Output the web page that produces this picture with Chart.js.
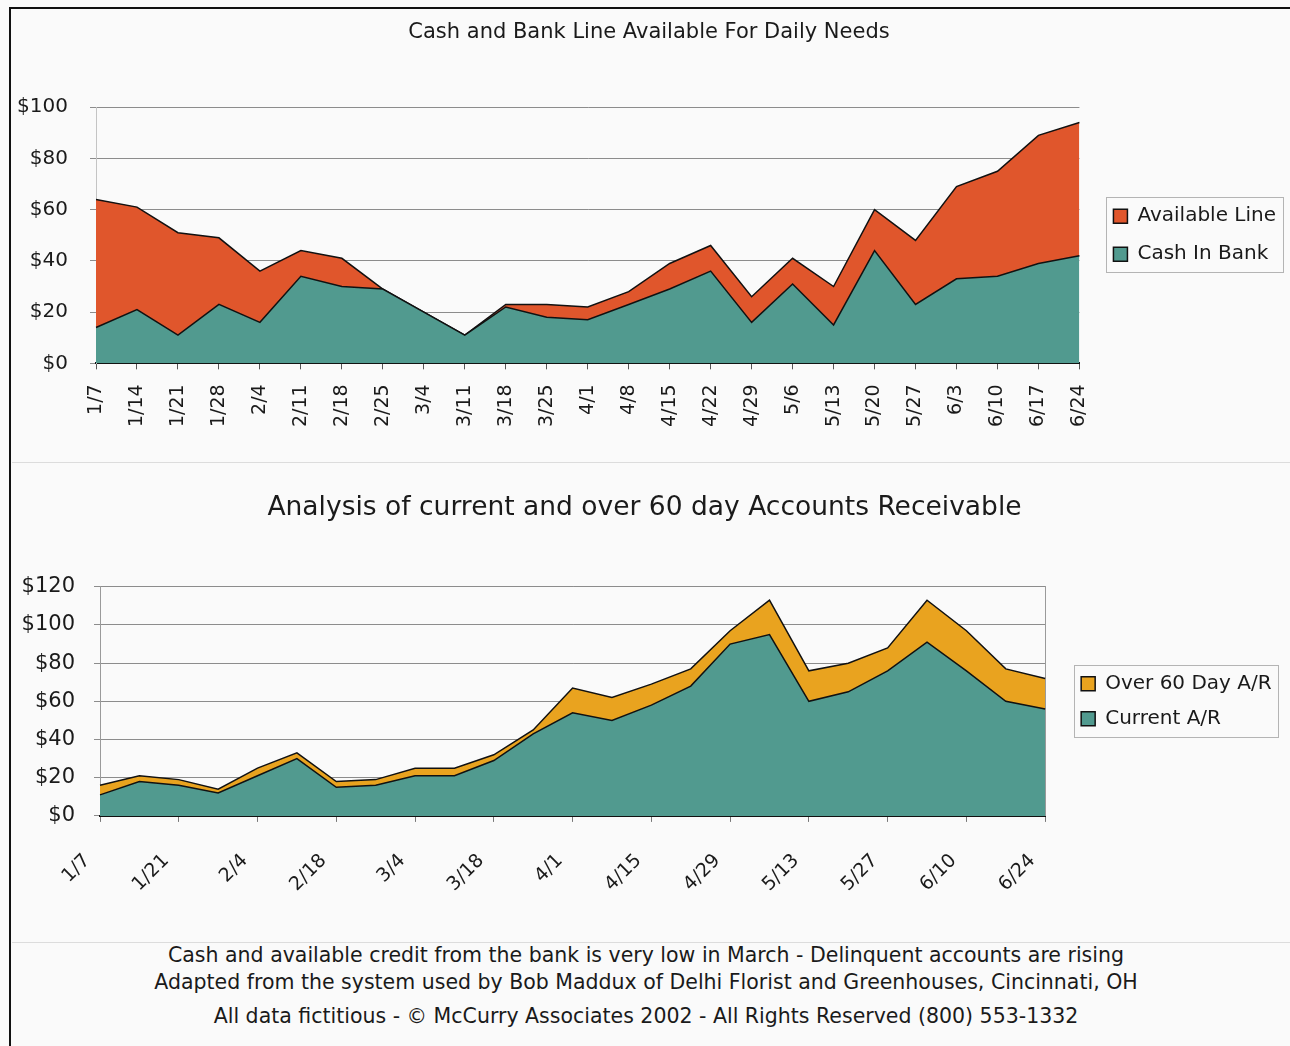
<!DOCTYPE html>
<html>
<head>
<meta charset="utf-8">
<title>Cash and Bank Line / Accounts Receivable</title>
<script src="https://cdn.jsdelivr.net/npm/chart.js@4/dist/chart.umd.min.js"></script>
<style>
  body { margin: 0; background: #fafafa; font-family: 'DejaVu Sans', sans-serif; color: #1a1a1a; }
  #frame { position: absolute; left: 9px; top: 7px; width: 1281px; height: 1039px; border-left: 2px solid #111; border-top: 2px solid #111; }
  .box { position: absolute; left: 12px; }
  #top-box { top: 10px; }
  #bottom-box { top: 465px; }
  .rule { position: absolute; left: 12px; width: 1278px; height: 1px; background: #dcdcdc; }
  .note { position: absolute; left: 12px; width: 1268px; text-align: center; font-size: 20.5px; line-height: 24px; white-space: nowrap; }
</style>
</head>
<body>
<div id="frame"></div>
<div class="box" id="top-box"><canvas id="cash-chart" width="1278" height="450"></canvas></div>
<div class="rule" style="top:462px"></div>
<div class="box" id="bottom-box"><canvas id="ar-chart" width="1278" height="470"></canvas></div>
<div class="rule" style="top:942px"></div>
<div class="note" style="top:943px">Cash and available credit from the bank is very low in March - Delinquent accounts are rising</div>
<div class="note" style="top:970px">Adapted from the system used by Bob Maddux of Delhi Florist and Greenhouses, Cincinnati, OH</div>
<div class="note" style="top:1004px">All data fictitious - © McCurry Associates 2002 - All Rights Reserved (800) 553-1332</div>

<script>
// weekly data, Jan 7 - Jun 24 (thousands of dollars)
const weeks = ['1/7', '1/14', '1/21', '1/28', '2/4', '2/11', '2/18', '2/25', '3/4', '3/11', '3/18', '3/25',
  '4/1', '4/8', '4/15', '4/22', '4/29', '5/6', '5/13', '5/20', '5/27', '6/3', '6/10', '6/17', '6/24'];

const cashInBank = [14, 21, 11, 23, 16, 34, 30, 29, 20, 11, 22, 18, 17, 23, 29, 36, 16, 31, 15, 44, 23, 33, 34, 39, 42];
const availableLine = [50, 40, 40, 26, 20, 10, 11, 0, 0, 0, 1, 5, 5, 5, 10, 10, 10, 10, 15, 16, 25, 36, 41, 50, 52];

const currentAR = [11, 18, 16, 12, 21, 30, 15, 16, 21, 21, 29, 43, 54, 50, 58, 68, 90, 95, 60, 65, 76, 91, 76, 60, 56];
const over60AR = [5, 3, 3, 2, 4, 3, 3, 3, 4, 4, 3, 2, 13, 12, 11, 9, 7, 18, 16, 15, 12, 22, 21, 17, 16];

const ink = '#1a1a1a';
const teal = '#519a8f';
const red = '#e0562c';
const gold = '#e9a31f';

Chart.defaults.font.family = "'DejaVu Sans', sans-serif";
Chart.defaults.color = ink;

// draws the thin frame round the legend items
const legendFrame = {
  id: 'legendFrame',
  afterDraw(chart) {
    const boxes = chart.legend.legendHitBoxes;
    if (!boxes || !boxes.length) return;
    const left = Math.min(...boxes.map(b => b.left)) - 7;
    const top = Math.min(...boxes.map(b => b.top)) - 9;
    const right = Math.max(...boxes.map(b => b.left + b.width)) + 7;
    const bottom = Math.max(...boxes.map(b => b.top + b.height)) + 8;
    const ctx = chart.ctx;
    ctx.save();
    ctx.strokeStyle = '#b4b4b4';
    ctx.lineWidth = 1;
    ctx.strokeRect(Math.round(left) + 0.5, Math.round(top) + 0.5, Math.round(right - left), Math.round(bottom - top));
    ctx.restore();
  }
};

function area(label, values, colour, fill) {
  return {
    label: label,
    data: values,
    backgroundColor: colour,
    borderColor: '#111',
    borderWidth: 1.5,
    fill: fill,
    pointRadius: 0,
    tension: 0
  };
}

// top: cash and bank line
new Chart(document.getElementById('cash-chart'), {
  type: 'line',
  data: {
    labels: weeks,
    datasets: [
      area('Cash In Bank', cashInBank, teal, 'origin'),
      area('Available Line', availableLine, red, '-1')
    ]
  },
  options: {
    responsive: false,
    animation: false,
    layout: { padding: { left: 0, right: 4, bottom: 18 } },
    plugins: {
      title: {
        display: true,
        text: 'Cash and Bank Line Available For Daily Needs',
        font: { size: 21, weight: 'normal' },
        color: ink,
        padding: { top: 10, bottom: 62 }
      },
      legend: {
        position: 'right',
        fullSize: false,
        reverse: true,
        labels: { boxWidth: 14, boxHeight: 14, padding: 18, font: { size: 20 }, color: ink }
      },
      tooltip: { enabled: false }
    },
    scales: {
      x: {
        grid: { drawOnChartArea: false, tickLength: 6, color: '#555' },
        border: { color: '#111', width: 2 },
        ticks: { minRotation: 90, maxRotation: 90, autoSkip: false, padding: 15, font: { size: 19 }, color: ink }
      },
      y: {
        stacked: true,
        min: 0,
        max: 100,
        grid: { color: '#8c8c8c', tickLength: 6 },
        border: { color: '#c4c4c4' },
        ticks: { stepSize: 20, padding: 22, font: { size: 20 }, color: ink, callback: v => '$' + v },
        afterFit: s => { s.width = 84; }
      },
      gap: {
        position: 'right',
        grid: { display: false },
        border: { display: false },
        ticks: { display: false },
        afterFit: s => { s.width = 16; }
      }
    }
  },
  plugins: [legendFrame]
});

// bottom: accounts receivable
new Chart(document.getElementById('ar-chart'), {
  type: 'line',
  data: {
    labels: weeks,
    datasets: [
      area('Current A/R', currentAR, teal, 'origin'),
      area('Over 60 Day A/R', over60AR, gold, '-1')
    ]
  },
  options: {
    responsive: false,
    animation: false,
    layout: { padding: { left: 0, right: 13, bottom: 24 } },
    plugins: {
      title: {
        display: true,
        text: 'Analysis of current and over 60 day Accounts Receivable',
        font: { size: 26.5, weight: 'normal' },
        color: ink,
        padding: { top: 27, bottom: 63 }
      },
      legend: {
        position: 'right',
        fullSize: false,
        reverse: true,
        labels: { boxWidth: 14, boxHeight: 14, padding: 15, font: { size: 20 }, color: ink }
      },
      tooltip: { enabled: false }
    },
    scales: {
      x: {
        grid: { drawOnChartArea: false, tickLength: 6, color: '#777' },
        border: { color: '#111', width: 2 },
        ticks: {
          minRotation: 45,
          maxRotation: 45,
          autoSkip: false,
          padding: 15,
          font: { size: 19 },
          color: ink,
          // every other week is labelled; trailing spaces set the label back from its tick
          callback: (v, i) => (i % 2 ? null : weeks[i] + '   ')
        }
      },
      y: {
        stacked: true,
        min: 0,
        max: 120,
        grid: { color: '#8c8c8c', tickLength: 6 },
        border: { color: '#9a9a9a' },
        ticks: { stepSize: 20, padding: 19, font: { size: 21 }, color: ink, callback: v => '$' + v },
        afterFit: s => { s.width = 88; }
      },
      edge: {
        position: 'right',
        grid: { display: false },
        border: { display: true, color: '#9a9a9a' },
        ticks: { display: false },
        afterFit: s => { s.width = 21; }
      }
    }
  },
  plugins: [legendFrame]
});
</script>
</body>
</html>
